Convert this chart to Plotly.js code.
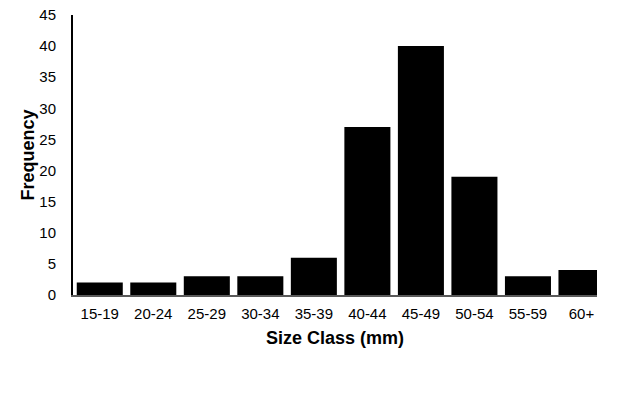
<!DOCTYPE html>
<html><head><meta charset="utf-8">
<script src="https://cdn.plot.ly/plotly-3.0.1.min.js"></script>
<style>html,body{margin:0;padding:0;background:#fff}#chart{width:624px;height:400px}</style>
</head><body><div id="chart"></div>
<script>
var sizeClasses = ["15-19","20-24","25-29","30-34","35-39","40-44","45-49","50-54","55-59","60+"];
var frequency = [2,2,3,3,6,27,40,19,3,4];
var yTicks = [0,5,10,15,20,25,30,35,40,45];

var trace = {
  type: 'bar', x: sizeClasses, y: frequency,
  marker: {color: '#000000', line: {width: 0}},
  hoverinfo: 'none'
};
var layout = {
  width: 624, height: 400,
  margin: {l: 73, r: 27, t: 15, b: 105},
  paper_bgcolor: '#fff', plot_bgcolor: '#fff',
  font: {family: 'Liberation Sans, Arial, sans-serif', size: 15, color: '#000'},
  bargap: 0.14,
  showlegend: false,
  xaxis: {
    type: 'category', range: [-0.5, 9.29],
    showline: true, linecolor: '#595959', linewidth: 2,
    showgrid: false, zeroline: false, ticks: '',
    ticklabelstandoff: 4,
    tickfont: {size: 15},
    title: {text: '<b>Size Class (mm)</b>', font: {size: 18}, standoff: 10},
    automargin: false
  },
  yaxis: {
    range: [0, 45], tickvals: yTicks, ticktext: yTicks.map(String),
    showline: true, linecolor: '#000', linewidth: 2,
    showgrid: false, zeroline: false, ticks: '',
    ticklabelstandoff: 12,
    tickfont: {size: 15},
    title: {text: '<b>Frequency</b>', font: {size: 18}, standoff: 0},
    automargin: false
  }
};
Plotly.newPlot('chart', [trace], layout, {displayModeBar: false, staticPlot: true});
</script></body></html>
